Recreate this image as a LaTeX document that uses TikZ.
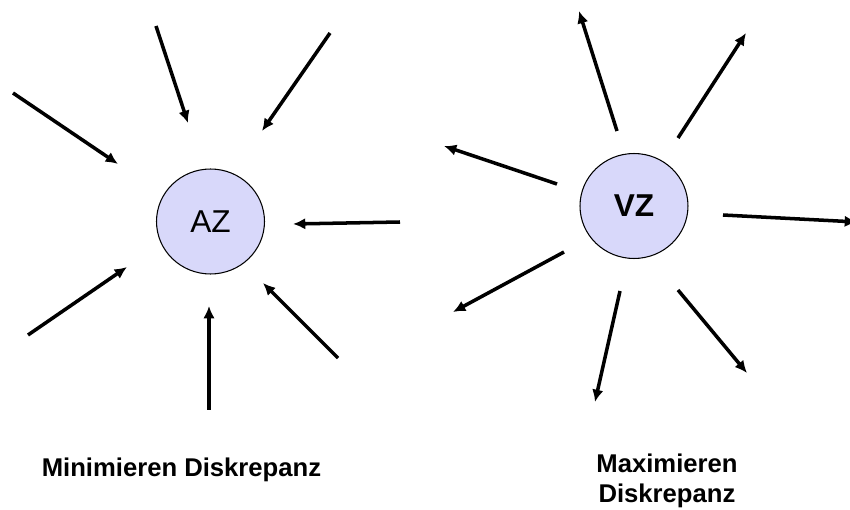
\documentclass[tikz,border=0pt]{standalone}
\usepackage{fontspec}
\setmainfont{Liberation Sans}
\usetikzlibrary{arrows.meta,shapes.geometric}
\definecolor{zielblau}{RGB}{216,216,250}
\tikzset{
  ziel/.style={ellipse, draw, line width=0.6pt, fill=zielblau, minimum width=2.16cm, minimum height=2.1cm, inner sep=0pt, font=\fontsize{18}{21}\selectfont},
  pfeil/.style={line width=2pt, -{Latex[length=7pt,width=6.5pt]}},
  beschriftung/.style={font=\fontsize{14.6}{17.2}\selectfont\bfseries, align=center, inner sep=0pt}
}

\begin{document}
\begin{tikzpicture}[x=0.02cm, y=-0.02cm]
\clip (0,0) rectangle (850,510);
\node[ziel] (az) at (210.5,221.5) {AZ};
\node[ziel, font=\fontsize{18}{21}\selectfont\bfseries] (vz) at (634,206) {VZ};

% Pfeile zum AZ
\coordinate (a1s) at (13,93);   \coordinate (a1e) at (118,164);
\coordinate (a2s) at (156,26);  \coordinate (a2e) at (188,123);
\coordinate (a3s) at (330,33);  \coordinate (a3e) at (262,131);
\coordinate (a4s) at (400,222); \coordinate (a4e) at (293,224);
\coordinate (a5s) at (338,358); \coordinate (a5e) at (263,283);
\coordinate (a6s) at (209,410); \coordinate (a6e) at (209,306);
\coordinate (a7s) at (28,335);  \coordinate (a7e) at (127,267);
\draw[pfeil] (a1s) -- (a1e);
\draw[pfeil] (a2s) -- (a2e);
\draw[pfeil] (a3s) -- (a3e);
\draw[pfeil] (a4s) -- (a4e);
\draw[pfeil] (a5s) -- (a5e);
\draw[pfeil] (a6s) -- (a6e);
\draw[pfeil] (a7s) -- (a7e);

% Pfeile vom VZ
\coordinate (v1s) at (617,131); \coordinate (v1e) at (579,11);
\coordinate (v2s) at (678,138); \coordinate (v2e) at (746,33);
\coordinate (v3s) at (557,184); \coordinate (v3e) at (444,146);
\coordinate (v4s) at (723,215); \coordinate (v4e) at (857,222);
\coordinate (v5s) at (564,252); \coordinate (v5e) at (453,312);
\coordinate (v6s) at (620,291); \coordinate (v6e) at (595,402);
\coordinate (v7s) at (678,290); \coordinate (v7e) at (747,373);
\draw[pfeil] (v1s) -- (v1e);
\draw[pfeil] (v2s) -- (v2e);
\draw[pfeil] (v3s) -- (v3e);
\draw[pfeil] (v4s) -- (v4e);
\draw[pfeil] (v5s) -- (v5e);
\draw[pfeil] (v6s) -- (v6e);
\draw[pfeil] (v7s) -- (v7e);

\node[beschriftung, anchor=base] (minimieren) at (181.5,477) {Minimieren Diskrepanz};
\node[beschriftung] (maximieren) at (667,481) {Maximieren\\Diskrepanz};
\end{tikzpicture}
\end{document}
